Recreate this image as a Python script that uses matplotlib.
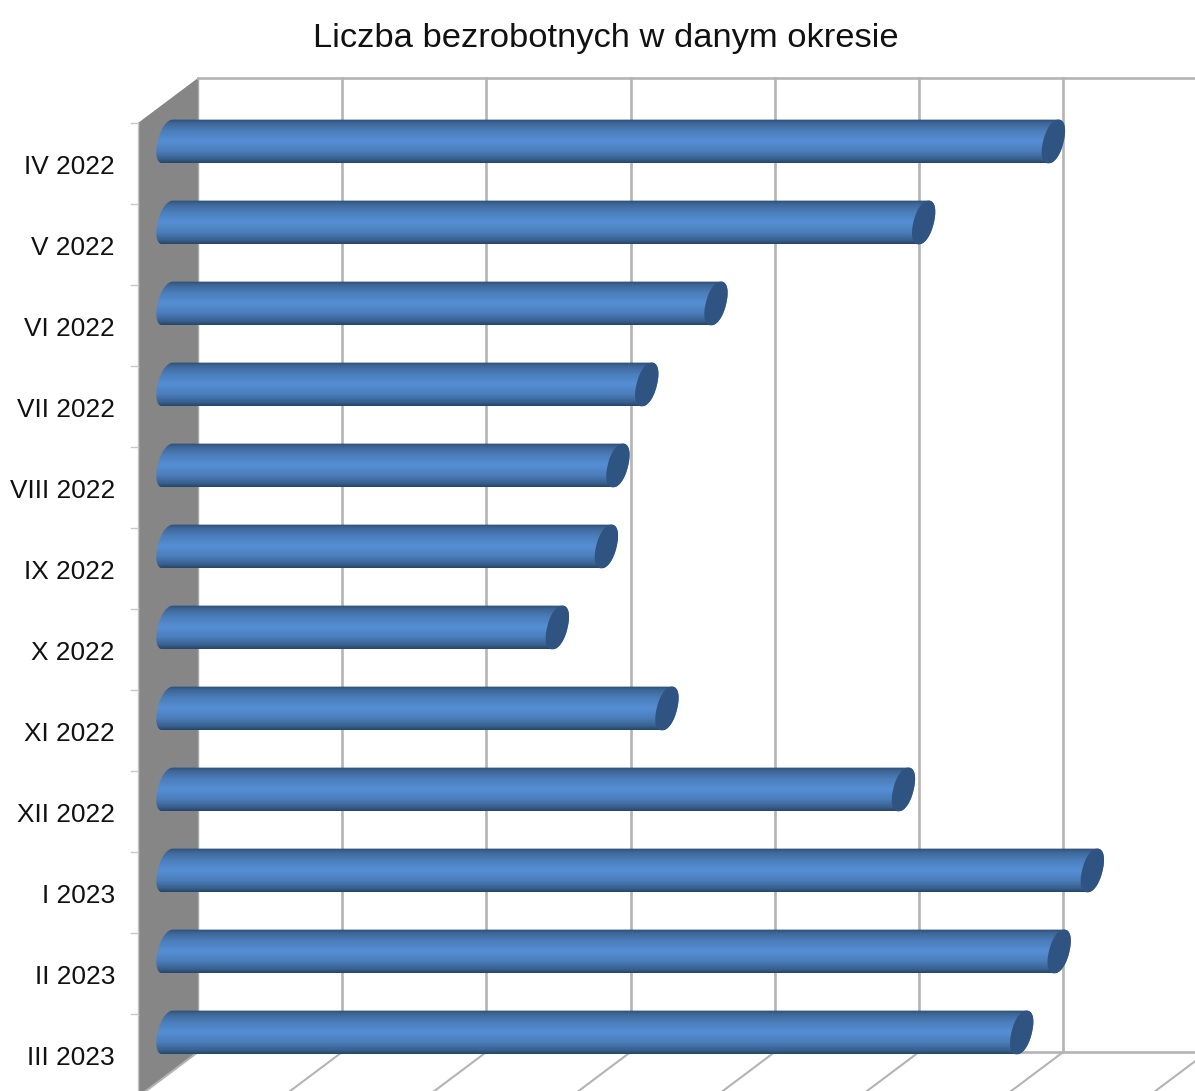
import matplotlib
matplotlib.use("Agg")
import matplotlib.pyplot as plt
import numpy as np
from matplotlib.colors import LinearSegmentedColormap
from matplotlib.patches import Polygon

plt.rcParams['font.family'] = ['Liberation Sans', 'DejaVu Sans']

months = ["IV 2022", "V 2022", "VI 2022", "VII 2022", "VIII 2022", "IX 2022",
          "X 2022", "XI 2022", "XII 2022", "I 2023", "II 2023", "III 2023"]
# no value axis labels in the picture, so values are in grid steps
values = [6.14, 5.24, 3.80, 3.32, 3.12, 3.04, 2.70, 3.46, 5.10, 6.41, 6.18, 5.92]
grid_steps = [0, 1, 2, 3, 4, 5, 6, 7]

W, H = 1195, 1091
XSTEP, YSTEP = 144.2, 81.0   # pixels for one grid step / one category
X0, Y0 = 168.0, 141.5        # pixels of value 0 / first category

# depth of the fake 3D box, half in front of the bars and half behind
DX = 30 / XSTEP

cyl = LinearSegmentedColormap.from_list("cyl", [
    (0.0, "#2c4e78"), (0.08, "#3d6595"), (0.25, "#4a7cb8"), (0.5, "#568fd6"),
    (0.75, "#4a7cb8"), (0.92, "#385f8e"), (1.0, "#274769")])
cap_color = "#2f5482"
grid_color = "#b4b4b4"

fig = plt.figure(figsize=(W / 100, H / 100), dpi=100)
ax = fig.add_axes([0, 0, 1, 1])
ax.axis("off")

front_top = -0.2284
back_top = front_top - 45 / YSTEP
back_bottom = (1052 - Y0) / YSTEP
front_bottom = back_bottom + 45 / YSTEP

# side wall
ax.add_patch(Polygon([(-DX, front_top), (DX, back_top), (DX, back_bottom), (-DX, front_bottom)],
                     closed=True, facecolor="#868686", edgecolor="none", zorder=1))
ax.plot([-DX, -DX], [front_top, front_bottom], color="#c8c8c8", lw=1.0, zorder=1.5)
ax.plot([DX, DX], [back_top, back_bottom], color="#a8a8a8", lw=1.0, zorder=1.5)

# back wall and floor lines
for k in grid_steps:
    gx = DX + k
    if k > 0:
        ax.plot([gx, gx], [back_top, back_bottom], color=grid_color, lw=1.9, zorder=2)
    ax.plot([gx, gx - 2 * DX], [back_bottom, front_bottom], color=grid_color, lw=1.5, zorder=2)
ax.plot([DX, 8], [back_top, back_top], color=grid_color, lw=1.9, zorder=2)
ax.plot([DX, 8], [back_bottom, back_bottom], color=grid_color, lw=1.9, zorder=2)

# tick marks and category labels sit on the front edge of the wall
for i, name in enumerate(months):
    ty = i + front_top
    ax.plot([-DX - 7 / XSTEP, -DX], [ty, ty], color="#c8c8c8", lw=1.0, zorder=2)
    ax.text(-DX - 23 / XSTEP, i + 0.32, name, ha="right", va="center",
            fontsize=18.95, color="#111111")


def end_shape(t, v, i):
    # slanted, slightly squared ellipse for the round ends
    c, sn = np.cos(t), np.sin(t)
    c = np.sign(c) * np.abs(c) ** 0.92
    sn = np.sign(sn) * np.abs(sn) ** 0.92
    return v + a * c + s * sn, i - b * sn


# cylinders
a = 10.3 / XSTEP
s = 5.0 / XSTEP
b = 0.27
t = np.linspace(0, 2 * np.pi, 161)
grad = np.linspace(0, 1, 64).reshape(-1, 1)
for i, v in enumerate(values):
    # left half of the start ellipse, then right half of the end ellipse
    x1, y1 = end_shape(np.linspace(np.pi / 2, 3 * np.pi / 2, 60), 0, i)
    x2, y2 = end_shape(np.linspace(-np.pi / 2, np.pi / 2, 60), v, i)
    body = Polygon(np.c_[np.r_[x1, x2], np.r_[y1, y2]], closed=True, transform=ax.transData,
                   facecolor="none", edgecolor="none", zorder=3.5)
    ax.add_patch(body)
    im = ax.imshow(grad, cmap=cyl, aspect="auto", extent=(-a - s, v + a + s, i + b, i - b),
                   zorder=3, interpolation="bilinear")
    im.set_clip_path(body)
    cx, cy = end_shape(t, v, i)
    ax.add_patch(Polygon(np.c_[cx, cy], closed=True, facecolor=cap_color, edgecolor="none", zorder=4))

ax.set_xlim(-X0 / XSTEP, (W - X0) / XSTEP)
ax.set_ylim((H - Y0) / YSTEP, -Y0 / YSTEP)

fig.text(606 / W, 1 - 38 / H, "Liczba bezrobotnych w danym okresie", ha="center", va="center",
         fontsize=24.8, color="#111111")

fig.savefig("out.png", dpi=100)
